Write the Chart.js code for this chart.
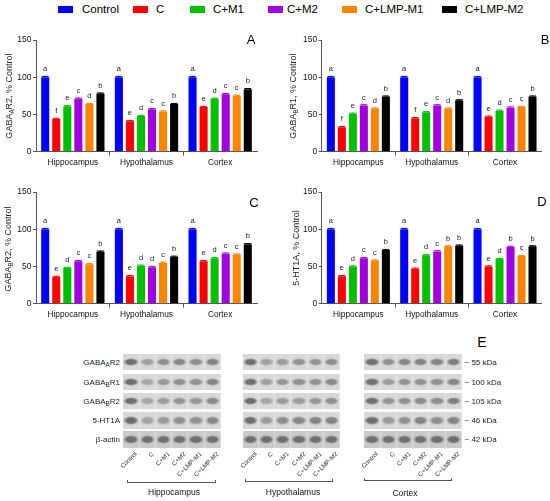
<!DOCTYPE html>
<html><head><meta charset="utf-8">
<script src="https://cdn.jsdelivr.net/npm/chart.js@4.4.0/dist/chart.umd.min.js"></script>
<style>
body{margin:0;background:#fff;font-family:"Liberation Sans",Arial,sans-serif;}
#root{position:relative;width:550px;height:501px;overflow:hidden;background:#fff;}
canvas{position:absolute;}
.lg-box{position:absolute;width:15px;height:7px;top:6px;}
.lg-txt{position:absolute;top:3px;font-size:11.5px;line-height:12px;color:#000;white-space:nowrap;}
.ytitle{position:absolute;font-size:9px;line-height:10px;white-space:nowrap;transform:translate(-50%,-50%) rotate(-90deg);color:#222;}
sub{font-size:6.3px;vertical-align:-2px;line-height:0;}
.panel{position:absolute;font-size:13px;line-height:14px;transform:translate(-50%,-50%);color:#000;}
.row{position:absolute;background:#d6d6d6;overflow:hidden;}
.lane{position:absolute;top:0;bottom:0;border-right:1px solid rgba(255,255,255,0.3);box-sizing:border-box;}
.band{position:absolute;left:0px;right:0px;top:4px;height:8.5px;}
.rlab{position:absolute;font-size:8px;line-height:9px;color:#222;white-space:nowrap;transform:translate(-100%,-50%);}
.klab{position:absolute;font-size:8px;line-height:9px;color:#222;white-space:nowrap;transform:translateY(-50%);}
.lanelab{position:absolute;font-size:6.3px;line-height:7px;color:#333;white-space:nowrap;transform-origin:100% 0;transform:translateX(-100%) rotate(-45deg);}
.brk{position:absolute;height:3px;border:1px solid #555;border-top:none;box-sizing:border-box;}
.glab{position:absolute;font-size:8.5px;line-height:10px;color:#111;white-space:nowrap;transform:translate(-50%,-50%);}
</style></head>
<body><div id="root">
<canvas id="cA" width="275" height="150" style="left:0px;top:25px;width:275px;height:150px"></canvas>
<canvas id="cB" width="275" height="150" style="left:275px;top:25px;width:275px;height:150px"></canvas>
<canvas id="cC" width="275" height="150" style="left:0px;top:177.3px;width:275px;height:150px"></canvas>
<canvas id="cD" width="275" height="150" style="left:275px;top:177.3px;width:275px;height:150px"></canvas>
</div>
<script>
const categories = ['Hippocampus', 'Hypothalamus', 'Cortex'];
const groups = ['Control', 'C', 'C+M1', 'C+M2', 'C+LMP-M1', 'C+LMP-M2'];
const colors = ['#0000ff', '#ff0000', '#00c000', '#a000e0', '#ff8400', '#000000'];

// values per group: [Hippocampus, Hypothalamus, Cortex]
const gabaAR2 = [[100,100,100],[44,41,60],[61,48,71],[71,57,77],[64,54,75],[78,64,84]];
const gabaAR2Letters = [['a','a','a'],['f','e','e'],['e','d','d'],['c','c','c'],['d','c','c'],['b','b','b']];
const gabaBR1 = [[100,100,100],[33,45,47],[51,53,55],[62,62,59],[58,58,60],[74,69,74]];
const gabaBR1Letters = [['a','a','a'],['f','f','e'],['e','e','d'],['c','c','c'],['d','d','c'],['b','b','b']];
const gabaBR2 = [[100,100,100],[36,37,57],[48,51,61],[57,49,67],[53,55,66],[70,63,80]];
const gabaBR2Letters = [['a','a','a'],['e','e','e'],['d','d','d'],['c','d','c'],['c','c','c'],['b','b','b']];
const ht1a = [[100,100,100],[37,47,50],[50,65,60],[61,70,76],[58,77,64],[72,78,77]];
const ht1aLetters = [['a','a','a'],['e','e','e'],['d','d','d'],['c','c','b'],['c','b','c'],['b','b','b']];
const errSize = [1.8,1.5,1.5,1.8,1.5,1.5];
const yTicks = [0, 50, 100, 150];

const blotRows = ['GABA<sub>A</sub>R2','GABA<sub>B</sub>R1','GABA<sub>B</sub>R2','5-HT1A','β-actin'];
const kdaLabels = ['~ 55 kDa','~ 100 kDa','~ 105 kDa','~ 46 kDa','~ 42 kDa'];

const axisColor = '#555';
Chart.defaults.font.family = '"Liberation Sans", Arial, sans-serif';

const annot = {
  id: 'annot',
  afterDatasetsDraw(chart) {
    const ctx = chart.ctx, y = chart.scales.y;
    chart.data.datasets.forEach((ds, di) => {
      const meta = chart.getDatasetMeta(di);
      meta.data.forEach((bar, i) => {
        const top = y.getPixelForValue(ds.data[i] + ds.err[i]);
        const w = bar.width;
        ctx.save();
        ctx.strokeStyle = ds.backgroundColor;
        ctx.lineWidth = 1;
        ctx.beginPath();
        ctx.moveTo(bar.x, bar.y); ctx.lineTo(bar.x, top);
        ctx.moveTo(bar.x - w * 0.42, top + 0.5); ctx.lineTo(bar.x + w * 0.42, top + 0.5);
        ctx.stroke();
        ctx.fillStyle = '#222';
        ctx.font = '7.5px "Liberation Sans", Arial, sans-serif';
        ctx.textAlign = 'center';
        ctx.textBaseline = 'bottom';
        ctx.fillText(ds.letters[i], bar.x, top - 3);
        ctx.restore();
      });
    });
  }
};

function buildChart(id, vals, lets, yW, padR) {
  return new Chart(document.getElementById(id), {
    type: 'bar',
    data: {
      labels: categories,
      datasets: groups.map((g, gi) => ({
        label: g, data: vals[gi], backgroundColor: colors[gi], borderWidth: 0,
        err: categories.map(() => errSize[gi]), letters: lets[gi],
        categoryPercentage: 0.9, barPercentage: 0.73
      }))
    },
    options: {
      responsive: false, animation: false,
      layout: { padding: { top: 15, right: padR, left: 0, bottom: 0 } },
      plugins: { legend: { display: false }, tooltip: { enabled: false } },
      scales: {
        x: {
          grid: { display: true, drawOnChartArea: false, drawTicks: true, tickLength: 4, offset: true,
                  color: (c) => (c.type !== 'tick' || c.index === 0) ? 'rgba(0,0,0,0)' : axisColor },
          border: { display: true, color: axisColor, width: 1 },
          ticks: { color: '#111', font: { size: 8.3 }, padding: 2, maxRotation: 0 },
          afterFit: (s) => { s.height = 23.3; }
        },
        y: {
          min: 0, max: 150,
          afterBuildTicks: (s) => { s.ticks = yTicks.map(v => ({ value: v })); },
          ticks: { color: '#111', font: { size: 8.5 }, padding: 1.5 },
          grid: { drawOnChartArea: false, tickLength: 3, color: axisColor },
          border: { display: true, color: axisColor, width: 1 },
          afterFit: (s) => { s.width = yW; }
        }
      }
    },
    plugins: [annot]
  });
}

buildChart('cA', gabaAR2, gabaAR2Letters, 36, 18);
buildChart('cB', gabaBR1, gabaBR1Letters, 46.7, 8.3);
buildChart('cC', gabaBR2, gabaBR2Letters, 36, 18);
buildChart('cD', ht1a, ht1aLetters, 46.7, 8.3);

const root = document.getElementById('root');
function add(cls, html, style) {
  const d = document.createElement('div');
  d.className = cls; d.innerHTML = html;
  Object.assign(d.style, style);
  root.appendChild(d); return d;
}

// legend
const lgBox = [58, 133, 190, 268, 342, 442];
const lgTxt = [82, 156, 213, 287, 365, 465];
groups.forEach((g, i) => {
  add('lg-box', '', { left: lgBox[i] + 'px', background: colors[i] });
  add('lg-txt', g, { left: lgTxt[i] + 'px' });
});

// y titles
add('ytitle', 'GABA<sub>A</sub>R2, % Control', { left: '8.5px', top: '96px' });
add('ytitle', 'GABA<sub>B</sub>R1, % Control', { left: '293px', top: '96px' });
add('ytitle', 'GABA<sub>B</sub>R2, % Control', { left: '8px', top: '248.5px' });
add('ytitle', '5-HT1A, % Control', { left: '296px', top: '248px' });

// panel letters
add('panel', 'A', { left: '251px', top: '40px' });
add('panel', 'B', { left: '545px', top: '40px' });
add('panel', 'C', { left: '254px', top: '202.5px' });
add('panel', 'D', { left: '542px', top: '202px' });
add('panel', 'E', { left: '482px', top: '341.7px', fontSize: '14px' });

// blot (band darkness follows the measured values)
const rowTops = [353.5, 373.5, 392.5, 412, 431];
const rowH = 16.5;
const boxX = [123.3, 242.7, 364.3];
const boxW = 97.5;
const proteinVals = [gabaAR2, gabaBR1, gabaBR2, ht1a];
rowTops.forEach((t, ri) => {
  add('rlab', blotRows[ri], { left: '120px', top: (t + rowH / 2) + 'px' });
  add('klab', kdaLabels[ri], { left: '464.5px', top: (t + rowH / 2) + 'px' });
  boxX.forEach((bx, ci) => {
    const row = add('row', '', { left: bx + 'px', top: t + 'px', width: boxW + 'px', height: rowH + 'px',
      background: ri === 4 ? '#cacaca' : '#d8d8d8' });
    const lw = boxW / 6;
    for (let g = 0; g < 6; g++) {
      const lane = document.createElement('div');
      lane.className = 'lane';
      lane.style.left = (g * lw) + 'px'; lane.style.width = lw + 'px';
      const v = ri < 4 ? proteinVals[ri][g][ci] : 95;
      const a = (0.12 + 0.55 * v / 100).toFixed(2);
      const band = document.createElement('div');
      band.className = 'band';
      band.style.background = `radial-gradient(ellipse closest-side, rgba(60,60,60,${a}) 55%, rgba(60,60,60,${(a * 0.45).toFixed(2)}) 80%, rgba(60,60,60,0) 100%)`;
      lane.appendChild(band);
      row.appendChild(lane);
    }
  });
});

// lane labels
boxX.forEach((bx) => {
  const lw = boxW / 6;
  groups.forEach((g, gi) => {
    add('lanelab', g, { left: (bx + lw * (gi + 0.5) + 2) + 'px', top: '450px' });
  });
});

// brackets and group labels
const brk = [[126.7, 216, 479.5], [245, 333.3, 478.5], [364.3, 452.3, 477.5]];
const glab = [[174, 491.7], [293, 492], [405, 493]];
brk.forEach((b, i) => {
  add('brk', '', { left: b[0] + 'px', top: b[2] + 'px', width: (b[1] - b[0]) + 'px' });
  add('glab', categories[i], { left: glab[i][0] + 'px', top: glab[i][1] + 'px' });
});
</script>
</body></html>
